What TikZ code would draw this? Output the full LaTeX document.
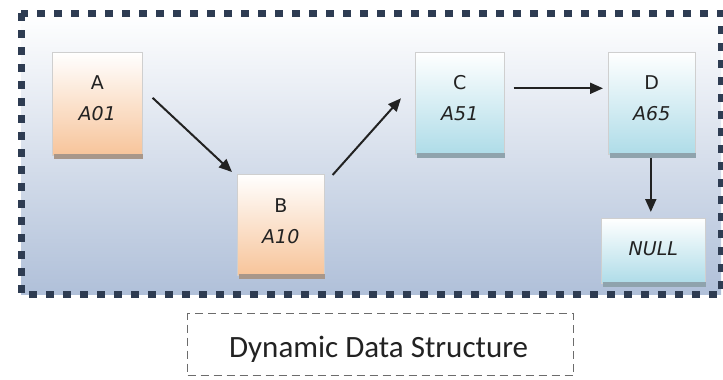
\documentclass[tikz,border=0pt]{standalone}
\usepackage{fontspec}
\setmainfont{DejaVu Sans}
\newfontfamily\capfont{Carlito}
\usetikzlibrary{arrows.meta,calc}

\definecolor{framecol}{HTML}{2E3C52}
\definecolor{framefill}{HTML}{B0C0D9}
\definecolor{cellline}{HTML}{CFCFCF}
\definecolor{peach}{HTML}{F7C49A}
\definecolor{aqua}{HTML}{AEDCE8}
\definecolor{warmshadow}{HTML}{A8978A}
\definecolor{coolshadow}{HTML}{8FA3AD}
\definecolor{ink}{HTML}{222222}
\definecolor{capline}{HTML}{6C6C6C}

\tikzset{
  cell/.style={draw=cellline, line width=0.6pt, inner sep=0pt, anchor=north west},
  warm/.style={cell, top color=white, bottom color=peach},
  cool/.style={cell, top color=white, bottom color=aqua},
  lbl/.style={font=\fontsize{19}{31}\selectfont, text=ink, align=center, inner sep=0pt},
  arr/.style={-{Triangle[length=13pt,width=11pt]}, line width=2pt, draw=ink},
}

\begin{document}
\begin{tikzpicture}[x=1pt,y=-1pt]
\useasboundingbox[fill=white] (0,0) rectangle (723,380);

% panel with dotted frame
\path[top color=white, bottom color=framefill] (21,13) rectangle (721,294);
\draw[framecol, line width=7pt, dash pattern=on 8pt off 9pt] (21,13) rectangle (721,294);

% list cells
\node[warm, minimum width=90pt, minimum height=103pt] (A) at (52,52) {};
\node[warm, minimum width=87pt, minimum height=101pt] (B) at (237,174) {};
\node[cool, minimum width=89pt, minimum height=102pt] (C) at (415,52) {};
\node[cool, minimum width=87pt, minimum height=102pt] (D) at (608,52) {};
\node[cool, minimum width=104pt, minimum height=65pt] (N) at (601,218) {};

% bottom shadows of the cells
\fill[warmshadow] ($(A.south west)+(2,-2)$) rectangle ($(A.south east)+(0,3)$);
\fill[warmshadow] ($(B.south west)+(2,-2)$) rectangle ($(B.south east)+(0,3)$);
\fill[coolshadow] ($(C.south west)+(2,-2)$) rectangle ($(C.south east)+(0,3)$);
\fill[coolshadow] ($(D.south west)+(2,-2)$) rectangle ($(D.south east)+(0,3)$);
\fill[coolshadow] ($(N.south west)+(2,-2)$) rectangle ($(N.south east)+(0,3)$);

% cell contents
\node[lbl] (At) at ($(A.center)+(0,-6)$) {A\\\textit{A01}};
\node[lbl] (Bt) at ($(B.center)+(0,-4)$) {B\\\textit{A10}};
\node[lbl] (Ct) at ($(C.center)+(0,-5)$) {C\\\textit{A51}};
\node[lbl] (Dt) at ($(D.center)+(0,-5)$) {D\\\textit{A65}};
\node[lbl] (Nt) at ($(N.center)+(0,-2)$) {\textit{NULL}};

% links
\draw[arr] ($(A.east)+(10,-6)$) -- ($(B.north west)+(-5,-2)$);
\draw[arr] ($(B.north east)+(8,1)$) -- ($(C.west)+(-14,-5)$);
\draw[arr] ($(C.east)+(9,-15)$) -- ($(D.west)+(-5,-15)$);
\draw[arr] ($(D.south)+(-1,3)$) -- ($(D.south |- N.north)+(-1,-6)$);

% caption
\node[draw=capline, line width=1.3pt, dash pattern=on 8pt off 5pt, inner sep=0pt,
      minimum width=386pt, minimum height=62pt, anchor=north west] (Cap) at (187,313) {};
\node[font=\capfont\fontsize{31}{36}\selectfont, text=ink, anchor=base, inner sep=0pt]
      (CapT) at ($(Cap.north)+(-2,44)$) {Dynamic Data Structure};
\end{tikzpicture}
\end{document}
